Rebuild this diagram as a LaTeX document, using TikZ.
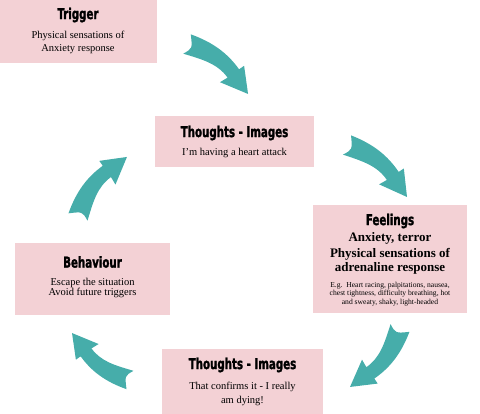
\documentclass[tikz,border=0pt]{standalone}
\usepackage{fontspec}
\setmainfont{Liberation Serif}
\newfontfamily\titlefont[FakeStretch=0.76,FakeBold=1.6]{DejaVu Sans Condensed Bold}
\definecolor{boxpink}{RGB}{243,209,213}
\definecolor{arrowteal}{RGB}{70,173,170}
\tikzset{
  box/.style={fill=boxpink, draw=none, inner sep=0pt, anchor=north west},
  ttl/.style={font=\titlefont\fontsize{15}{15}\selectfont, inner sep=0pt},
  body/.style={font=\fontsize{10.5}{12}\selectfont, inner sep=0pt},
  bodyb/.style={font=\bfseries\fontsize{13}{14}\selectfont, inner sep=0pt},
  small/.style={font=\fontsize{7.6}{8}\selectfont, inner sep=0pt},
  bigarrow/.pic={
    \fill[arrowteal] (-0.041,-0.125) .. controls (0.241,-0.225) and (0.472,-0.235) .. (0.714,-0.170)
      -- (0.735,-0.245) -- (1,0) -- (0.630,0.110) -- (0.668,0.004)
      .. controls (0.455,-0.053) and (0.276,0.028) .. (0.041,0.125)
      .. controls (0.09,0) .. (-0.041,-0.125) -- cycle;
  }
}
\begin{document}
\begin{tikzpicture}[x=1pt,y=-1pt]
\useasboundingbox (0,0) rectangle (480,414);
% boxes
\node[box, minimum width=157pt, minimum height=63pt] (trigger) at (0,0) {};
\node[box, minimum width=159pt, minimum height=51pt] (thoughtsA) at (155,116) {};
\node[box, minimum width=154pt, minimum height=108pt] (feelings) at (313,205) {};
\node[box, minimum width=155pt, minimum height=72pt] (behaviour) at (15,243) {};
\node[box, minimum width=161pt, minimum height=65pt] (thoughtsB) at (162,349) {};
% trigger
\node[ttl] (trigT) at (78,15) {Trigger};
\node[body] (trigL1) at (78,36) {Physical sensations of};
\node[body] (trigL2) at (78,49) {Anxiety response};
% thoughts A
\node[ttl] (thAT) at (234.5,133) {Thoughts - Images};
\node[body] (thAL1) at (234.5,153) {I’m having a heart attack};
% feelings
\node[ttl] (feT) at (390,221) {Feelings};
\node[bodyb] (feL1) at (390,238) {Anxiety, terror};
\node[bodyb] (feL2) at (390,254) {Physical sensations of};
\node[bodyb] (feL3) at (390,268) {adrenaline response};
\node[small] (feS1) at (390,285.5) {E.g.\ \ Heart racing, palpitations, nausea,};
\node[small] (feS2) at (390,294) {chest tightness, difficulty breathing, hot};
\node[small] (feS3) at (390,302.5) {and sweaty, shaky, light-headed};
% behaviour
\node[ttl] (beT) at (92.5,262) {Behaviour};
\node[body] (beL1) at (92.5,283) {Escape the situation};
\node[body] (beL2) at (92.5,293) {Avoid future triggers};
% thoughts B
\node[ttl] (thBT) at (242.5,365) {Thoughts - Images};
\node[body] (thBL1) at (242.5,387) {That confirms it - I really};
\node[body] (thBL2) at (242.5,401) {am dying!};
% arrows
\pic[rotate=-39.3, scale=78.9] at (187,44) {bigarrow};
\pic[rotate=-40.9, scale=79.4] at (347,145) {bigarrow};
\pic[rotate=-130.3, scale=77.3] at (400,328) {bigarrow};
\pic[rotate=141, scale=74.6] at (130,380) {bigarrow};
\pic[rotate=50.8, scale=77.5] at (78,217) {bigarrow};
\end{tikzpicture}
\end{document}
